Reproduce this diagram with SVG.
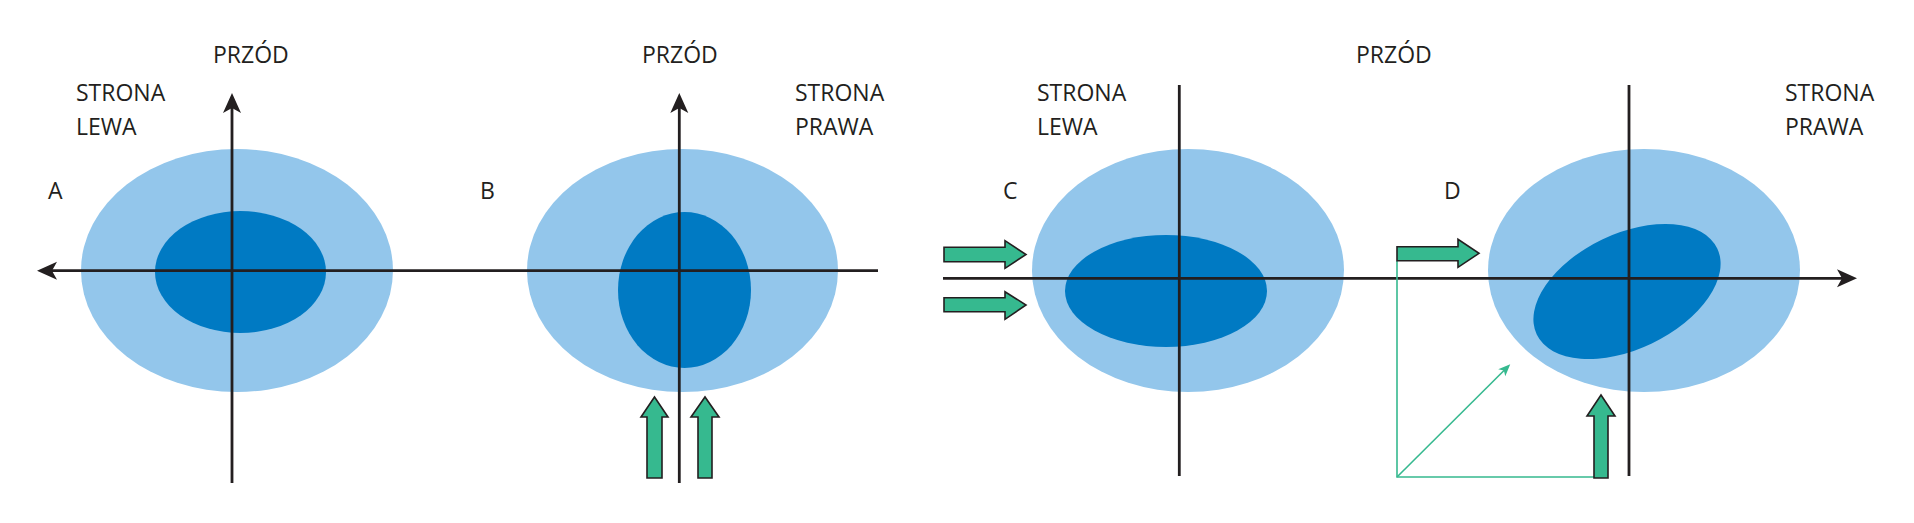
<svg xmlns="http://www.w3.org/2000/svg" width="1914" height="523" viewBox="0 0 1914 523">
<style>
.bg{fill:#ffffff}
.outer{fill:#93c6eb}
.inner{fill:#007ac3}
.t{font-family:"Open Sans","Noto Sans","Liberation Sans",sans-serif;font-size:23px;fill:#231f20}
.axis{stroke:#231f20;stroke-width:2.8;fill:none}
.garrow{fill:#36b98f;stroke:#231f20;stroke-width:1.6;stroke-linejoin:miter}
.gline{stroke:#36b98f;stroke-width:1.6;fill:none}
</style>
<defs>
<marker id="ah" viewBox="-21 -10 22 20" refX="-12" refY="0" markerWidth="22" markerHeight="20" markerUnits="userSpaceOnUse" orient="auto">
<path d="M0,0 L-20,-9 L-15,0 L-20,9 Z" fill="#231f20"/>
</marker>
<marker id="gh" viewBox="-13 -6 14 12" refX="-6" refY="0" markerWidth="14" markerHeight="12" markerUnits="userSpaceOnUse" orient="auto">
<path d="M0,0 L-12,-5 L-9,0 L-12,5 Z" fill="#36b98f"/>
</marker>
</defs>
<rect class="bg" x="0" y="0" width="1914" height="523"/>
<g id="panel-A">
<ellipse class="outer" cx="237" cy="270.5" rx="156" ry="121.5"/>
<ellipse class="inner" cx="240.5" cy="272" rx="85.5" ry="61"/>
<text class="t" x="213" y="63">PRZÓD</text>
<text class="t" x="76" y="101">STRONA</text>
<text class="t" x="76" y="135">LEWA</text>
<text class="t" x="48" y="199">A</text>
</g>
<g id="panel-B">
<ellipse class="outer" cx="682.5" cy="270.5" rx="155.5" ry="121.5"/>
<ellipse class="inner" cx="684.5" cy="290" rx="66.5" ry="78"/>
<text class="t" x="642" y="63">PRZÓD</text>
<text class="t" x="795" y="101">STRONA</text>
<text class="t" x="795" y="135">PRAWA</text>
<text class="t" x="480" y="199">B</text>
</g>
<g id="panel-C">
<ellipse class="outer" cx="1188" cy="270.5" rx="156" ry="121.5"/>
<ellipse class="inner" cx="1166" cy="291" rx="101" ry="56"/>
<text class="t" x="1037" y="101">STRONA</text>
<text class="t" x="1037" y="135">LEWA</text>
<text class="t" x="1003" y="199">C</text>
<text class="t" x="1356" y="63">PRZÓD</text>
</g>
<g id="panel-D">
<ellipse class="outer" cx="1644" cy="270.5" rx="156" ry="121.5"/>
<ellipse class="inner" cx="0" cy="0" rx="100" ry="57.6" transform="translate(1627 291.5) rotate(-25.5)"/>
<text class="t" x="1785" y="101">STRONA</text>
<text class="t" x="1785" y="135">PRAWA</text>
<text class="t" x="1444" y="199">D</text>
</g>
<g id="connectors">
<line class="axis" x1="232" y1="483" x2="232" y2="105" marker-end="url(#ah)"/>
<line class="axis" x1="878" y1="270.7" x2="49" y2="270.7" marker-end="url(#ah)"/>
<line class="axis" x1="679.3" y1="483" x2="679.3" y2="105" marker-end="url(#ah)"/>
<line class="axis" x1="1179.3" y1="85" x2="1179.3" y2="476"/>
<line class="axis" x1="1629" y1="85" x2="1629" y2="476"/>
<line class="axis" x1="943" y1="278.3" x2="1845" y2="278.3" marker-end="url(#ah)"/>
<polygon class="garrow" points="647,478 662,478 662,417 668,417 654.5,397 641,417 647,417"/>
<polygon class="garrow" points="698,478 712,478 712,417 719,417 705,397 691,417 698,417"/>
<polygon class="garrow" points="944,247.3 1005,247.3 1005,240.7 1026,254.5 1005,268.3 1005,261.7 944,261.7"/>
<polygon class="garrow" points="944,297.7 1005,297.7 1005,291.7 1026,305 1005,319.3 1005,311.7 944,311.7"/>
<polyline class="gline" points="1397,260.7 1397,477 1594,477"/>
<line class="gline" x1="1397" y1="477" x2="1506" y2="368.5" marker-end="url(#gh)"/>
<polygon class="garrow" points="1397,246.7 1458,246.7 1458,239.3 1479,253.3 1458,267.3 1458,260.7 1397,260.7"/>
<polygon class="garrow" points="1594,478 1608,478 1608,416 1615,416 1601,395 1587,416 1594,416"/>
</g>
</svg>
